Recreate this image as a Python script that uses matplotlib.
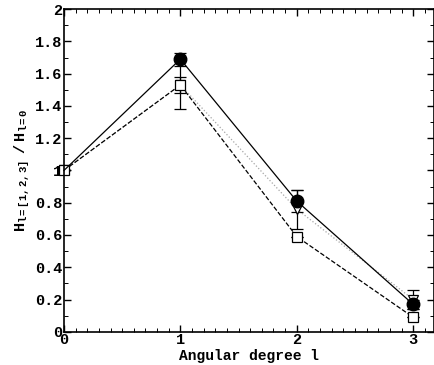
import matplotlib
matplotlib.use('Agg')
import matplotlib.pyplot as plt
import numpy as np
from matplotlib.ticker import MultipleLocator, FuncFormatter

plt.rcParams['font.family'] = 'Liberation Mono'
plt.rcParams['font.weight'] = 'bold'
plt.rcParams['mathtext.fontset'] = 'custom'
plt.rcParams['mathtext.rm'] = 'Liberation Mono:bold'
plt.rcParams['mathtext.it'] = 'Liberation Mono:bold'

degree = [0, 1, 2, 3]
h_circle = [1.0, 1.69, 0.81, 0.17]
err_circle = [0.0, 0.04, 0.07, 0.03]
h_square = [1.0, 1.53, 0.59, 0.09]
err_square = [0.0, 0.05, 0.0, 0.0]
h_tri = [1.0, 1.53, 0.76, 0.20]
err_tri = [0.0, 0.15, 0.12, 0.06]

fig = plt.figure(figsize=(4.35, 3.65), dpi=100)
ax = fig.add_axes([0.147, 0.091, 0.851, 0.884])

ax.errorbar(degree, h_tri, yerr=err_tri, color='0.65', ls=':', lw=0.9,
            marker='v', ms=7, mfc='white', mec='black', mew=0.9,
            ecolor='black', elinewidth=0.9, capsize=4, capthick=0.9, clip_on=False)
ax.errorbar(degree, h_square, yerr=err_square, color='black', ls='--', lw=0.9,
            marker='s', ms=7, mfc='white', mec='black', mew=0.9,
            ecolor='black', elinewidth=0.9, capsize=4, capthick=0.9, clip_on=False)
ax.errorbar(degree, h_circle, yerr=err_circle, color='black', ls='-', lw=0.9,
            marker='o', ms=9, mfc='black', mec='black', markevery=[1, 2, 3],
            ecolor='black', elinewidth=0.9, capsize=4, capthick=0.9, clip_on=False)

ax.set_xlim(0, 3.18)
ax.set_ylim(0, 2)
ax.xaxis.set_major_locator(MultipleLocator(1))
ax.xaxis.set_minor_locator(MultipleLocator(0.1))
ax.yaxis.set_major_locator(MultipleLocator(0.2))
ax.yaxis.set_minor_locator(MultipleLocator(0.1))
ax.yaxis.set_major_formatter(FuncFormatter(lambda v, p: ('%g' % round(v, 1))))
ax.tick_params(which='both', direction='in', top=True, right=True, labelsize=11)
ax.tick_params(which='major', length=5, width=1, pad=1)
ax.tick_params(which='minor', length=3, width=0.7)
for s in ax.spines.values():
    s.set_linewidth(1.2)

ax.set_xlabel('Angular degree l', fontsize=10.5, fontweight='bold', labelpad=1)
ax.set_ylabel(r'$\mathrm{H_{l=[1,2,3]}\ \ /\ H_{l=0}}$', fontsize=11, labelpad=2)

fig.savefig('out.png', dpi=100)
